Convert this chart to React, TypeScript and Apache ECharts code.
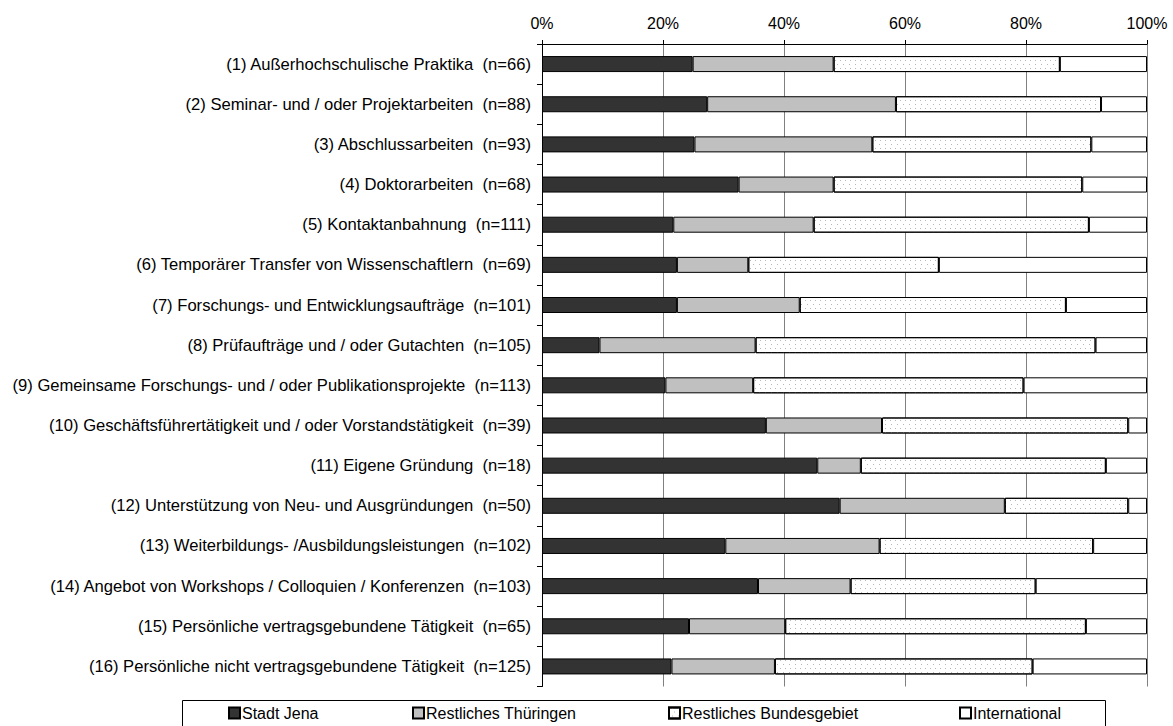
import React, { useEffect, useRef } from 'react';
import * as echarts from 'echarts';

const categories = [
  '(1) Außerhochschulische Praktika  (n=66)',
  '(2) Seminar- und / oder Projektarbeiten  (n=88)',
  '(3) Abschlussarbeiten  (n=93)',
  '(4) Doktorarbeiten  (n=68)',
  '(5) Kontaktanbahnung  (n=111)',
  '(6) Temporärer Transfer von Wissenschaftlern  (n=69)',
  '(7) Forschungs- und Entwicklungsaufträge  (n=101)',
  '(8) Prüfaufträge und / oder Gutachten  (n=105)',
  '(9) Gemeinsame Forschungs- und / oder Publikationsprojekte  (n=113)',
  '(10) Geschäftsführertätigkeit und / oder Vorstandstätigkeit  (n=39)',
  '(11) Eigene Gründung  (n=18)',
  '(12) Unterstützung von Neu- und Ausgründungen  (n=50)',
  '(13) Weiterbildungs- /Ausbildungsleistungen  (n=102)',
  '(14) Angebot von Workshops / Colloquien / Konferenzen  (n=103)',
  '(15) Persönliche vertragsgebundene Tätigkeit  (n=65)',
  '(16) Persönliche nicht vertragsgebundene Tätigkeit  (n=125)',
];

const seriesNames = ['Stadt Jena', 'Restliches Thüringen', 'Restliches Bundesgebiet', 'International'];

const stadtJena = [24.9, 27.3, 25.2, 32.5, 21.7, 22.3, 22.3, 9.5, 20.4, 37.0, 45.5, 49.2, 30.3, 35.7, 24.3, 21.4];
const restlichesThueringen = [23.3, 31.2, 29.4, 15.7, 23.2, 11.8, 20.3, 25.8, 14.5, 19.2, 7.2, 27.3, 25.5, 15.3, 15.9, 17.1];
const restlichesBundesgebiet = [37.4, 33.9, 36.2, 41.1, 45.5, 31.5, 44.0, 56.2, 44.7, 40.7, 40.5, 20.4, 35.3, 30.6, 49.7, 42.6];
const international = [14.4, 7.6, 9.2, 10.7, 9.6, 34.4, 13.4, 8.5, 20.4, 3.1, 6.8, 3.1, 8.9, 18.4, 10.1, 18.9];

const legendLeft = [228, 412, 668, 959];

const FONT = '"Liberation Sans", Arial, Helvetica, sans-serif';

export default function App() {
  const ref = useRef<HTMLDivElement>(null);

  useEffect(() => {
    if (!ref.current) return;
    const chart = echarts.init(ref.current, null, { renderer: 'svg' });

    const values = [stadtJena, restlichesThueringen, restlichesBundesgebiet, international];
    const colors = ['#333333', '#c0c0c0', '#ffffff', '#ffffff'];

    const series = seriesNames.map((name, i) => {
      const itemStyle: any = {
        color: colors[i],
        borderColor: '#000000',
        borderWidth: 1,
      };
      if (i === 2) {
        itemStyle.decal = {
          symbol: 'rect',
          symbolSize: 1,
          color: '#b8b8b8',
          dashArrayX: [[1, 4], [0, 2.5, 1, 1.5]],
          dashArrayY: [1, 3],
          rotation: 0,
        };
      }
      return {
        name,
        type: 'bar',
        stack: 'total',
        barWidth: 16,
        data: values[i],
        itemStyle,
        emphasis: { disabled: true },
      };
    });

    const option: any = {
      animation: false,
      backgroundColor: '#ffffff',
      textStyle: { fontFamily: FONT },
      grid: { left: 542, right: 26, top: 44, bottom: 39.5, containLabel: false },
      xAxis: {
        type: 'value',
        position: 'top',
        min: 0,
        max: 100,
        interval: 20,
        axisLine: { show: true, lineStyle: { color: '#000000', width: 1 } },
        axisTick: { show: true, length: 4, lineStyle: { color: '#000000', width: 1 } },
        axisLabel: { formatter: '{value}%', fontSize: 16, color: '#000000', margin: 13, fontFamily: FONT },
        splitLine: { show: true, lineStyle: { color: '#808080', width: 1 } },
      },
      yAxis: {
        type: 'category',
        data: categories,
        inverse: true,
        axisLine: { show: true, lineStyle: { color: '#000000', width: 1 } },
        axisTick: { show: true, length: 5, lineStyle: { color: '#000000', width: 1 } },
        axisLabel: { fontSize: 16.6, color: '#000000', margin: 11, fontFamily: FONT },
        splitLine: { show: false },
      },
      legend: seriesNames.map((name, i) => ({
        data: [name],
        left: legendLeft[i],
        top: 705,
        padding: 0,
        icon: 'rect',
        itemWidth: 11,
        itemHeight: 11,
        selectedMode: false,
        textStyle: { fontSize: 16, color: '#000000', fontFamily: FONT, padding: [0, 0, 0, -3] },
      })),
      graphic: [
        {
          type: 'rect',
          silent: true,
          z: -1,
          shape: { x: 182.5, y: 700.5, width: 923, height: 40 },
          style: { fill: 'none', stroke: '#000000', lineWidth: 1 },
        },
      ],
      series,
    };

    chart.setOption(option);
    return () => chart.dispose();
  }, []);

  return (
    <div
      ref={ref}
      style={{ position: 'fixed', left: 0, top: 0, width: 1173, height: 726, background: '#fff' }}
    />
  );
}
